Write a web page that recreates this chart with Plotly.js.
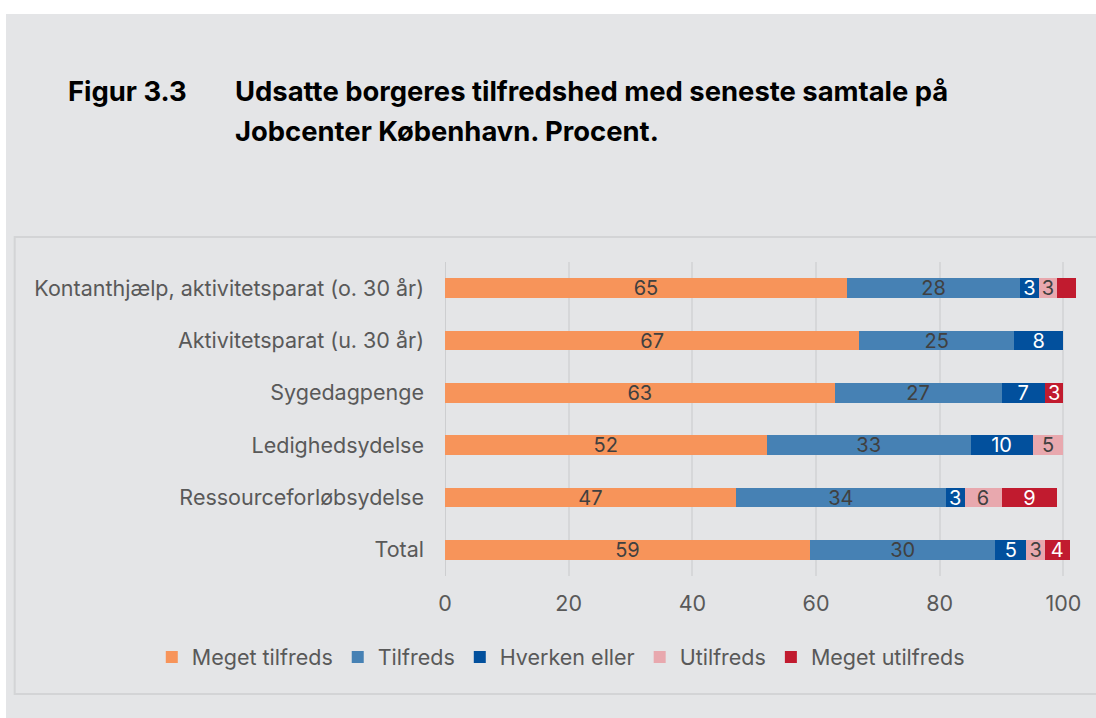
<!DOCTYPE html>
<html>
<head>
<meta charset="utf-8">
<script src="https://cdn.plot.ly/plotly-3.0.1.min.js"></script>
<style>
  html, body { margin: 0; padding: 0; background: #ffffff; }
  #chart { position: absolute; left: 6px; top: 14px; width: 1090px; height: 704px; }
</style>
</head>
<body>
<div id="chart"></div>
<script>
const categories = [
  "Kontanthjælp, aktivitetsparat (o. 30 år)",
  "Aktivitetsparat (u. 30 år)",
  "Sygedagpenge",
  "Ledighedsydelse",
  "Ressourceforløbsydelse",
  "Total"
];
const seriesNames = ["Meget tilfreds", "Tilfreds", "Hverken eller", "Utilfreds", "Meget utilfreds"];
const megetTilfreds  = [65, 67, 63, 52, 47, 59];
const tilfreds       = [28, 25, 27, 33, 34, 30];
const hverkenEller   = [3, 8, 7, 10, 3, 5];
const utilfreds      = [3, 0, 0, 5, 6, 3];
const megetUtilfreds = [3, 0, 3, 0, 9, 4];
const megetUtilfredsLabels = ["", "", "3", "", "9", "4"];
const xTicks = [0, 20, 40, 60, 80, 100];

const colors = ["#f7945a", "#4681b4", "#02509d", "#e8a8ae", "#c11b2f"];
const labelColors = ["#404040", "#404040", "#ffffff", "#404040", "#ffffff"];
const seriesValues = [megetTilfreds, tilfreds, hverkenEller, utilfreds, megetUtilfreds];

const FONT = "Inter, 'Noto Sans', sans-serif";

const traces = seriesValues.map((vals, i) => ({
  type: "bar",
  orientation: "h",
  name: seriesNames[i],
  y: categories,
  x: vals,
  text: i === 4 ? megetUtilfredsLabels : vals.map(v => v > 0 ? String(v) : ""),
  textposition: "inside",
  insidetextanchor: "middle",
  textangle: 0,
  constraintext: "none",
  textfont: { family: FONT, size: 20, color: labelColors[i] },
  marker: { color: colors[i], line: { width: 0 } },
  hoverinfo: "x+name"
}));

// plot area in div coords: 0 at 439, 100 at 1057 -> 6.18 px/unit; range to 103
const XMAX = 103;
const L = 439, R = 439 + 6.18 * XMAX, T = 248, B = 562;
const px = x => (x - L) / (R - L);
const py = y => (B - y) / (B - T);

const layout = {
  width: 1090,
  height: 704,
  margin: { l: L, r: 1090 - R, t: T, b: 704 - B, pad: 0 },
  paper_bgcolor: "#e4e5e7",
  plot_bgcolor: "rgba(0,0,0,0)",
  barmode: "stack",
  bargap: 0.62,
  showlegend: true,
  legend: {
    orientation: "h",
    x: px(146), xanchor: "left",
    y: py(643), yanchor: "middle",
    font: { family: FONT, size: 21.5, color: "#595959" },
    itemwidth: 30,
    traceorder: "normal",
    bgcolor: "rgba(0,0,0,0)"
  },
  xaxis: {
    range: [0, XMAX],
    tickvals: xTicks,
    ticktext: xTicks.map(String),
    showgrid: true,
    gridcolor: "#d6d7d9",
    gridwidth: 2,
    zeroline: false,
    showline: false,
    ticks: "",
    tickfont: { family: FONT, size: 21.5, color: "#595959" },
    ticklabelstandoff: 12,
    fixedrange: true
  },
  yaxis: {
    type: "category",
    autorange: "reversed",
    showgrid: false,
    zeroline: false,
    showline: false,
    ticks: "",
    tickfont: { family: FONT, size: 21.5, color: "#595959" },
    ticklabelstandoff: 20,
    fixedrange: true
  },
  shapes: [
    {
      type: "rect", xref: "paper", yref: "paper",
      x0: px(9), x1: px(1100), y0: py(680), y1: py(223),
      line: { color: "#d3d4d6", width: 2 },
      fillcolor: "rgba(0,0,0,0)", layer: "below"
    },
    {
      type: "line", xref: "x", yref: "paper",
      x0: 0, x1: 0, y0: 0, y1: 1,
      line: { color: "#cdced0", width: 2 }, layer: "below"
    }
  ],
  annotations: [
    {
      text: "<b>Figur 3.3</b>", xref: "paper", yref: "paper",
      x: px(60), y: py(77), xanchor: "left", yanchor: "middle",
      showarrow: false, font: { family: FONT, size: 27.4, color: "#000000" }
    },
    {
      text: "<b>Udsatte borgeres tilfredshed med seneste samtale på</b>", xref: "paper", yref: "paper",
      x: px(227), y: py(77), xanchor: "left", yanchor: "middle",
      showarrow: false, font: { family: FONT, size: 27.4, color: "#000000" }
    },
    {
      text: "<b>Jobcenter København. Procent.</b>", xref: "paper", yref: "paper",
      x: px(227), y: py(117), xanchor: "left", yanchor: "middle",
      showarrow: false, font: { family: FONT, size: 27.4, color: "#000000" }
    }
  ]
};

Plotly.newPlot("chart", traces, layout, { displayModeBar: false, staticPlot: true });
</script>
</body>
</html>
